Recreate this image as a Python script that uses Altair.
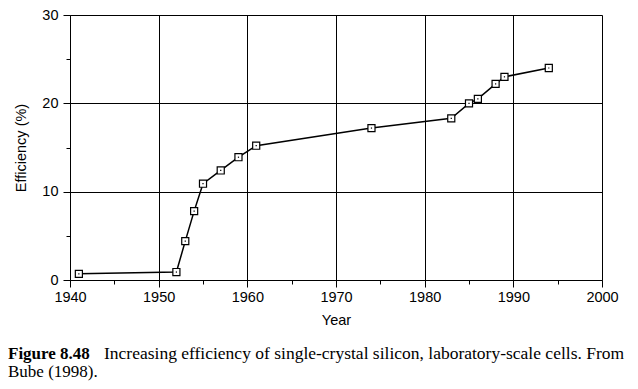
import altair as alt
import pandas as pd

# Data
years = [1941, 1952, 1953, 1954, 1955, 1957, 1959, 1961, 1974, 1983, 1985, 1986, 1988, 1989, 1994]
efficiency = [0.7, 0.9, 4.4, 7.8, 10.9, 12.4, 13.9, 15.2, 17.2, 18.3, 20.0, 20.5, 22.2, 23.0, 24.0]

x_major_ticks = [1940, 1950, 1960, 1970, 1980, 1990, 2000]
x_minor_ticks = [1945, 1955, 1965, 1975, 1985, 1995]
y_major_ticks = [0, 10, 20, 30]
y_minor_ticks = [5, 15, 25]

caption_bold = "Figure 8.48"
caption_line1 = "Increasing efficiency of single-crystal silicon, laboratory-scale cells. From"
caption_line2 = "Bube (1998)."

df = pd.DataFrame({"year": years, "eff": efficiency})

AX_FONT = "Liberation Sans"
SERIF = "Liberation Serif"

xscale = alt.Scale(domain=[1940, 2000], nice=False, zero=False)
yscale = alt.Scale(domain=[0, 30], nice=False)

common_axis = dict(
    domainColor="black", tickColor="black", labelColor="black", titleColor="black",
    labelFont=AX_FONT, titleFont=AX_FONT, labelFontSize=14.5, titleFontSize=14.5,
    titleFontWeight="normal",
)

x_major = alt.X("year:Q", scale=xscale, axis=alt.Axis(
    values=x_major_ticks, format="d", title="Year", grid=True, gridColor="black",
    gridOpacity=1, gridWidth=1, tickSize=7, labelPadding=3, titlePadding=10,
    labelFlush=False, **common_axis))
y_major = alt.Y("eff:Q", scale=yscale, axis=alt.Axis(
    values=y_major_ticks, title="Efficiency (%)", grid=True, gridColor="black",
    gridOpacity=1, gridWidth=1, tickSize=7, labelPadding=5, titlePadding=13,
    labelFlush=False, **common_axis))

x_minor = alt.X("year:Q", scale=xscale, axis=alt.Axis(
    values=x_minor_ticks, orient="bottom", labels=False, title=None, grid=False,
    domain=False, tickSize=4, tickColor="black"))
y_minor = alt.Y("eff:Q", scale=yscale, axis=alt.Axis(
    values=y_minor_ticks, orient="left", labels=False, title=None, grid=False,
    domain=False, tickSize=4, tickColor="black"))

base = alt.Chart(df)

line = base.mark_line(color="black", strokeWidth=1.5).encode(x=x_major, y=y_major)

squares = base.mark_point(shape="square", size=50, filled=True, fill="white",
                          stroke="black", strokeWidth=1.2, opacity=1).encode(x=x_minor, y=y_minor)

dots = base.mark_point(shape="square", size=1.5, filled=True, color="black",
                       opacity=1).encode(x=alt.X("year:Q", scale=xscale, axis=None),
                                         y=alt.Y("eff:Q", scale=yscale, axis=None))

cap_bold = alt.Chart(pd.DataFrame({"t": [caption_bold]})).mark_text(
    font=SERIF, fontSize=17, fontWeight="bold", align="left", baseline="alphabetic",
    color="black").encode(x=alt.value(-62), y=alt.value(344), text="t:N")
cap_l1 = alt.Chart(pd.DataFrame({"t": [caption_line1]})).mark_text(
    font=SERIF, fontSize=17.5, align="left", baseline="alphabetic",
    color="black").encode(x=alt.value(34), y=alt.value(344), text="t:N")
cap_l2 = alt.Chart(pd.DataFrame({"t": [caption_line2]})).mark_text(
    font=SERIF, fontSize=17, align="left", baseline="alphabetic",
    color="black").encode(x=alt.value(-62), y=alt.value(362), text="t:N")

chart = alt.layer(line, squares, dots, cap_bold, cap_l1, cap_l2).resolve_axis(
    x="independent", y="independent"
).properties(
    width=532, height=265,
    autosize=alt.AutoSizeParams(type="none"),
    padding={"left": 62, "top": 7, "right": 28, "bottom": 101},
).configure_view(stroke="black", strokeWidth=1).configure(background="white")

chart.save("out.html", embed_options={"renderer": "svg", "actions": False})
